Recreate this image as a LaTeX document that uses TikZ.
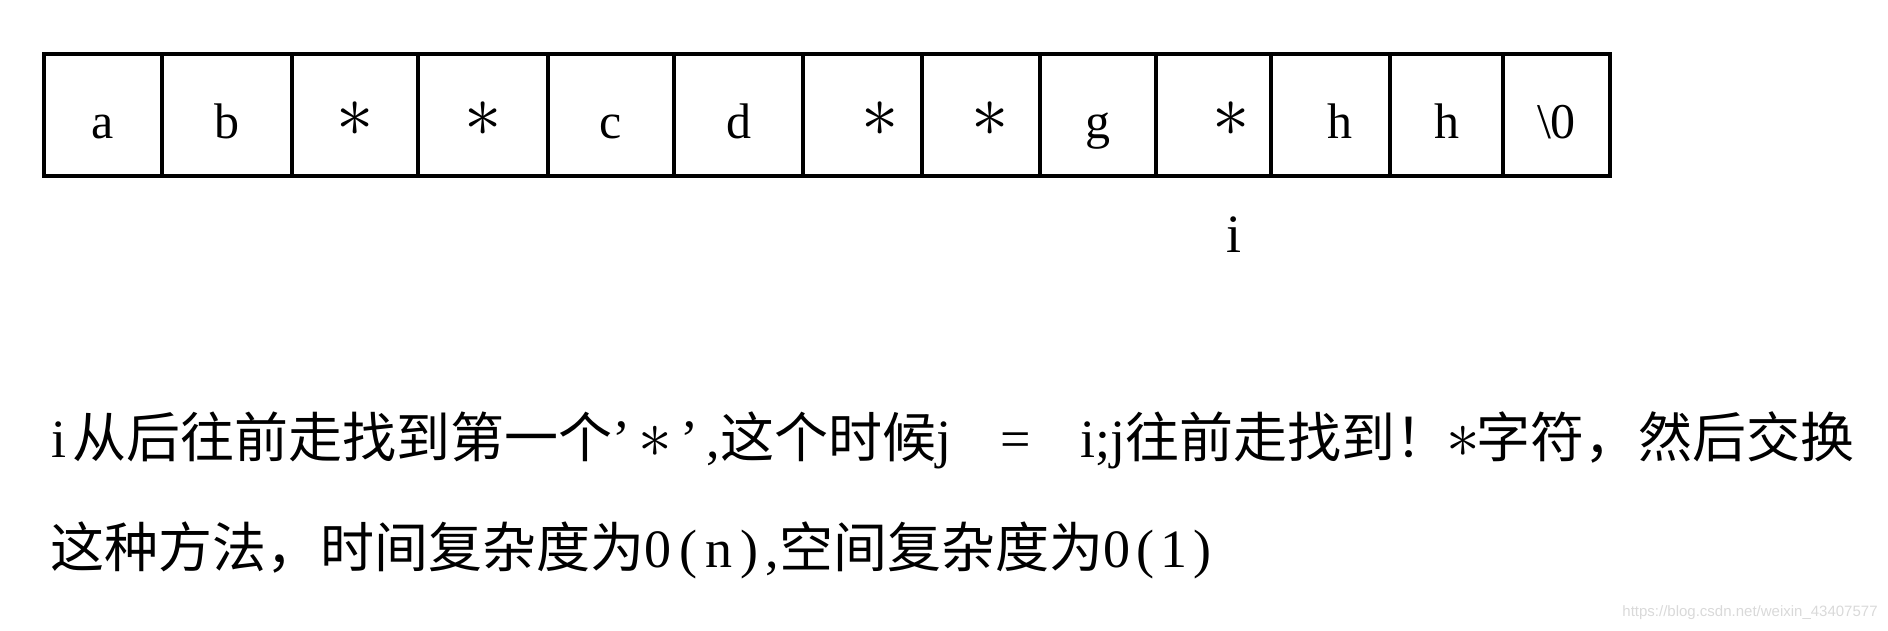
\documentclass[tikz,border=0pt]{standalone}
\usepackage{amsmath}
\usepackage{amssymb}
\usepackage{graphicx}
\usepackage{fontspec}
\setmainfont{Liberation Serif}
\newfontfamily\cjk{Noto Sans CJK SC}
\newfontfamily\wmfont{Liberation Sans}
\usetikzlibrary{positioning}
\newcommand{\hiast}{\raisebox{1.5pt}{\scalebox{1.5}{$\ast$}}}
\newcommand{\lineast}{\scalebox{1.35}{$\ast$}}
\newcommand{\hwtext}[2]{\makebox[#1em][s]{#2}}

\begin{document}
\begin{tikzpicture}[x=0.5pt,y=-0.5pt,
  cell/.style={draw,line width=2pt,minimum height=61pt,inner sep=0pt,outer sep=0pt,
    text height=24pt,text depth=0pt,font=\fontsize{25}{30}\selectfont},
  note/.style={anchor=base west,inner sep=0pt,font=\fontsize{27}{32}\selectfont}]
\useasboundingbox (0,0) rectangle (1888,631);
\node [cell,minimum width=59pt] (c1) at (103,115) {a};
\node [cell,minimum width=65pt,right=0pt of c1] (c2) {b};
\node [cell,minimum width=63pt,right=0pt of c2] (c3) {\hiast};
\node [cell,minimum width=65pt,right=0pt of c3] (c4) {\hiast};
\node [cell,minimum width=63pt,right=0pt of c4] (c5) {c};
\node [cell,minimum width=64.5pt,right=0pt of c5] (c6) {d};
\node [cell,minimum width=59.5pt,right=0pt of c6] (c7) {\hspace*{18pt}\hiast};
\node [cell,minimum width=59pt,right=0pt of c7] (c8) {\hspace*{9pt}\hiast};
\node [cell,minimum width=58pt,right=0pt of c8] (c9) {g};
\node [cell,minimum width=57.5pt,right=0pt of c9] (c10) {\hspace*{18pt}\hiast};
\node [cell,minimum width=59.5pt,right=0pt of c10] (c11) {\hspace*{9pt}h};
\node [cell,minimum width=56.5pt,right=0pt of c11] (c12) {h};
\node [cell,minimum width=53.5pt,right=0pt of c12] (c13) {\textbackslash0};
% pointer under the last star
\node [anchor=base,inner sep=0pt,font=\fontsize{27}{32}\selectfont] (ptr) at (1234,252) {i};
% explanation
\node [note] (line1) at (45,457) {\makebox[0.5em]{i}{\cjk 从后往前走找到第一个}\hwtext{2}{’\hfil\lineast\hfil’\hfil,}{\cjk 这个时候}\hwtext{3.5}{j\hfill=\hfill i;j}{\cjk 往前走找到！}\makebox[0.5em]{\lineast}{\cjk 字符，然后交换}};
\node [note] (line2) at (50,567) {{\cjk 这种方法，时间复杂度为}\hwtext{2.5}{0\hfil(\hfil n\hfil)\hfil,}{\cjk 空间复杂度为}\hwtext{2}{0\hfil(\hfil 1\hfil)}};
\node [anchor=east,inner sep=0pt,text=black!15,font=\wmfont\fontsize{7.5}{9}\selectfont] (mark) at (1878,613) {https://blog.csdn.net/weixin\_43407577};
\end{tikzpicture}
\end{document}
